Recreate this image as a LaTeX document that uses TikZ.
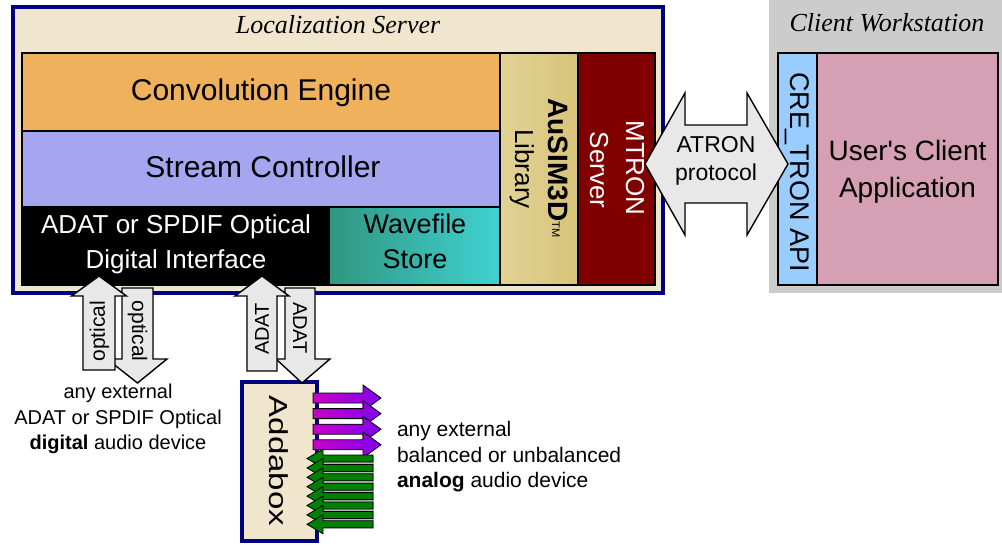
\documentclass[tikz,border=0pt]{standalone}
\usepackage{fontspec}
\setmainfont{Liberation Sans}
\newfontfamily\plainsans{Liberation Sans}
\newfontfamily\titlefont{Liberation Serif}
\newcommand\fsz[1]{\fontsize{#1}{#1}\selectfont}
\definecolor{navyc}{RGB}{0,0,128}
\definecolor{beigec}{RGB}{239,230,205}
\definecolor{convc}{RGB}{240,177,92}
\definecolor{streamc}{RGB}{166,166,240}
\definecolor{mtronc}{RGB}{128,0,0}
\definecolor{wsgrayc}{RGB}{204,204,204}
\definecolor{apibluec}{RGB}{153,204,255}
\definecolor{apppinkc}{RGB}{213,160,180}
\definecolor{arrowgrayc}{RGB}{232,232,232}
\definecolor{tealA}{RGB}{48,150,128}
\definecolor{tealB}{RGB}{64,210,210}
\definecolor{goldA}{RGB}{242,234,195}
\definecolor{goldB}{RGB}{215,195,120}
\definecolor{magA}{RGB}{200,0,200}
\definecolor{magB}{RGB}{130,0,240}
\definecolor{addagreen}{RGB}{0,128,0}
\begin{document}
\begin{tikzpicture}[x=1pt,y=-1pt,
  box/.style={draw=black, line width=1.2pt},
  blockarrow/.style={draw=black, line width=1.4pt, fill=arrowgrayc, line join=miter},
  txt/.style={inner sep=0pt, outer sep=0pt},
  frame/.style={draw=navyc, line width=4pt, fill=beigec}]
\useasboundingbox (0,0) rectangle (1002,546);

% ---------- Client workstation ----------
\fill[wsgrayc] (769,0) rectangle (1002,293);
\node[txt, anchor=base, font=\titlefont\itshape\fsz{26}] (cwtitle) at (887,31) {Client Workstation};
\draw[box, fill=apibluec] (778,53) rectangle (817,285);
\draw[box, fill=apppinkc] (817,53) rectangle (998,285);
\node[txt, rotate=-90, font=\fsz{27}] (api) at (797.5,172) {CRE\_TRON API};
\node[txt, anchor=base, font=\plainsans\fsz{28}] (app1) at (907.5,160) {User's Client};
\node[txt, anchor=base, font=\fsz{28}] (app2) at (907.5,197) {Application};

% ---------- Localization server ----------
\draw[frame] (13,7) rectangle (662.5,293);
\node[txt, anchor=base, font=\titlefont\itshape\fsz{26}] (lstitle) at (338,33) {Localization Server};
\draw[box, fill=convc] (22,53) rectangle (500,131);
\draw[box, fill=streamc] (22,131) rectangle (500,207);
\draw[box, fill=black] (22,207) rectangle (329,285);
\shade[box, left color=tealA, right color=tealB] (329,207) rectangle (500,285);
\shade[box, left color=goldB!60!goldA, middle color=goldA, right color=goldB] (500,53) rectangle (578,285);
\draw[box, fill=mtronc] (578,53) rectangle (655,285);

\node[txt, anchor=base, font=\fsz{30}] (conv) at (261,100) {Convolution Engine};
\node[txt, anchor=base, font=\fsz{30}] (stream) at (263,177) {Stream Controller};
\node[txt, anchor=base, font=\fsz{26}, text=white] (adat1) at (176,233) {ADAT or SPDIF Optical};
\node[txt, anchor=base, font=\fsz{26}, text=white] (adat2) at (176,268) {Digital Interface};
\node[txt, anchor=base, font=\fsz{27}] (wave1) at (415,233) {Wavefile};
\node[txt, anchor=base, font=\fsz{27}] (wave2) at (415,268) {Store};
\node[txt, anchor=base, rotate=-90, font=\fsz{28}] (ausim) at (548,168)
  {\textbf{AuSIM3D}\raisebox{4pt}{\fsz{11}TM}};
\node[txt, anchor=base, rotate=-90, font=\fsz{26}] (lib) at (515,169) {Library};
\node[txt, anchor=base, rotate=-90, font=\fsz{26}, text=white] (mtron) at (626,168) {MTRON};
\node[txt, anchor=base, rotate=-90, font=\fsz{26}, text=white] (server) at (590,170) {Server};

% ---------- ATRON protocol arrow ----------
\draw[blockarrow] (645,164) -- (685,93) -- (685,125) -- (747,125) -- (747,93) -- (788,164)
  -- (747,235) -- (747,203) -- (685,203) -- (685,235) -- cycle;
\node[txt, anchor=base, font=\fsz{23}] (atron1) at (716,152) {ATRON};
\node[txt, anchor=base, font=\fsz{23}] (atron2) at (716,180) {protocol};

% ---------- Addabox ----------
\draw[frame] (242,382) rectangle (317,541);
\node[txt, rotate=-90, font=\fsz{26}] (addabox) at (278.5,461) {\scalebox{1.27}[1]{Addabox}};

% ---------- optical / ADAT arrows ----------
\draw[blockarrow] (122,288) -- (153,288) -- (153,359) -- (167,359) -- (137.5,383) -- (107,359) -- (122,359) -- cycle;
\draw[blockarrow] (99,276) -- (126.5,296) -- (115,296) -- (115,370) -- (83,370) -- (83,296) -- (71.5,296) -- cycle;
\node[txt, rotate=-90, font=\fsz{21}] (optdown) at (137.5,331) {optical};
\node[txt, rotate=90, font=\fsz{21}] (optup) at (99.5,331) {optical};

\draw[blockarrow] (285,288) -- (315,288) -- (315,359) -- (330,359) -- (302,383) -- (276,359) -- (285,359) -- cycle;
\draw[blockarrow] (262,276) -- (289,296) -- (277,296) -- (277,371) -- (247,371) -- (247,296) -- (235,296) -- cycle;
\node[txt, rotate=-90, font=\fsz{20}] (adatdown) at (300,328) {ADAT};
\node[txt, rotate=90, font=\fsz{20}] (adatup) at (262,329) {ADAT};

% ---------- analog arrows ----------
\foreach \i in {0,...,3} {
  \pgfmathsetmacro\cy{398+15.6*\i}
  \shade[draw=black, line width=0.8pt, left color=magA, right color=magB]
    (313,{\cy-5}) -- (363,{\cy-5}) -- (363,{\cy-13}) -- (381,\cy) -- (363,{\cy+13})
    -- (363,{\cy+5}) -- (313,{\cy+5}) -- cycle;
}
\fill[gray!55] (323,456) rectangle (374,529);
\foreach \i in {0,...,7} {
  \pgfmathsetmacro\cy{458.5+9.4*\i}
  \draw[draw=black, line width=0.8pt, fill=addagreen]
    (307,\cy) -- (323,{\cy-9.5}) -- (323,{\cy-3.5}) -- (373,{\cy-3.5}) -- (373,{\cy+3.5})
    -- (323,{\cy+3.5}) -- (323,{\cy+9.5}) -- cycle;
}

% ---------- device texts ----------
\node[txt, anchor=base, font=\fsz{20}] (dig1) at (118,398) {any external};
\node[txt, anchor=base, font=\fsz{20}] (dig2) at (118,424) {ADAT or SPDIF Optical};
\node[txt, anchor=base, font=\fsz{20}] (dig3) at (118,449) {\textbf{digital} audio device};
\node[txt, anchor=base west, font=\fsz{21}] (ana1) at (397,436) {any external};
\node[txt, anchor=base west, font=\fsz{21}] (ana2) at (397,462) {balanced or unbalanced};
\node[txt, anchor=base west, font=\fsz{21}] (ana3) at (397,487) {\textbf{analog} audio device};
\end{tikzpicture}
\end{document}
